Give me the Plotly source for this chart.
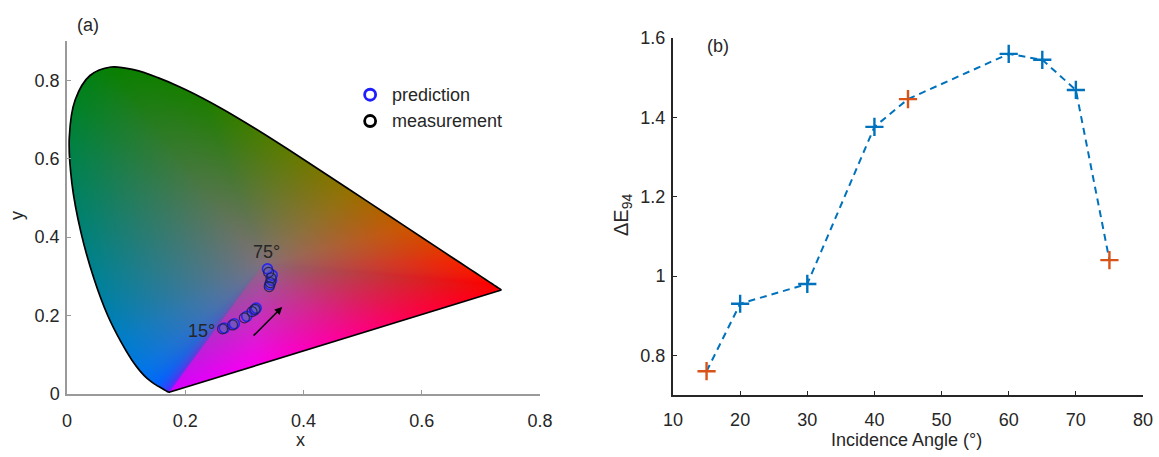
import numpy as np
import plotly.graph_objects as go
import zlib, struct, base64

# ---------------- data ----------------
# CIE 1931 spectral locus (nm, x, y)
locus_nm = [380, 390, 400, 410, 420, 425, 430, 435, 440, 445, 450, 455, 460, 465, 470, 475, 480,
            485, 490, 495, 500, 505, 510, 515, 520, 525, 530, 535, 540, 545, 550, 555, 560, 565,
            570, 575, 580, 585, 590, 595, 600, 605, 610, 615, 620, 625, 630, 635, 640, 645, 650,
            660, 670, 680, 700]
locus_x = [0.1741, 0.1738, 0.1733, 0.1726, 0.1714, 0.1703, 0.1689, 0.1669, 0.1644, 0.1611, 0.1566,
           0.1510, 0.1440, 0.1355, 0.1241, 0.1096, 0.0913, 0.0687, 0.0454, 0.0235, 0.0082, 0.0039,
           0.0139, 0.0389, 0.0743, 0.1142, 0.1547, 0.1929, 0.2296, 0.2658, 0.3016, 0.3373, 0.3731,
           0.4087, 0.4441, 0.4788, 0.5125, 0.5448, 0.5752, 0.6029, 0.6270, 0.6482, 0.6658, 0.6801,
           0.6915, 0.7006, 0.7079, 0.7140, 0.7190, 0.7230, 0.7260, 0.7300, 0.7320, 0.7334, 0.7347]
locus_y = [0.0050, 0.0049, 0.0048, 0.0048, 0.0051, 0.0058, 0.0069, 0.0086, 0.0109, 0.0138, 0.0177,
           0.0227, 0.0297, 0.0399, 0.0578, 0.0868, 0.1327, 0.2007, 0.2950, 0.4127, 0.5384, 0.6548,
           0.7502, 0.8120, 0.8338, 0.8262, 0.8059, 0.7816, 0.7543, 0.7243, 0.6923, 0.6589, 0.6245,
           0.5896, 0.5547, 0.5202, 0.4866, 0.4544, 0.4242, 0.3965, 0.3725, 0.3514, 0.3340, 0.3197,
           0.3083, 0.2993, 0.2920, 0.2859, 0.2809, 0.2770, 0.2740, 0.2700, 0.2680, 0.2666, 0.2653]

# edge colours along the locus (by wavelength) and along the purple line
edge_nm = [380, 430, 455, 470, 480, 490, 500, 510, 520, 540, 560, 575, 590, 610, 640, 700]
edge_rgb = [(215, 0, 255), (70, 50, 255), (0, 100, 255), (0, 118, 235), (0, 126, 205), (0, 130, 150),
            (0, 130, 90), (0, 130, 35), (8, 128, 0), (28, 126, 0), (95, 124, 0), (150, 114, 0),
            (205, 86, 0), (245, 35, 0), (255, 0, 0), (255, 0, 0)]
purple_s = [0.0, 0.25, 0.5, 0.75, 1.0]
purple_rgb = [(255, 0, 0), (255, 0, 70), (255, 0, 160), (250, 0, 240), (215, 0, 255)]
white_xy = (0.3333, 0.3333)
white_rgb = (132, 112, 122)

# (a) chromaticity of the samples
angles = [15, 20, 30, 40, 45, 60, 65, 70, 75]
meas_x = [0.263, 0.280, 0.300, 0.313, 0.318, 0.342, 0.344, 0.345, 0.341]
meas_y = [0.166, 0.176, 0.194, 0.210, 0.216, 0.274, 0.284, 0.296, 0.310]
pred_x = [0.266, 0.283, 0.304, 0.317, 0.320, 0.343, 0.346, 0.347, 0.339]
pred_y = [0.168, 0.179, 0.198, 0.214, 0.219, 0.279, 0.290, 0.303, 0.319]

# (b) colour difference
de94 = [0.76, 0.93, 0.98, 1.376, 1.446, 1.56, 1.545, 1.469, 1.04]
point_kind = ["o", "b", "b", "b", "o", "b", "b", "b", "o"]

ax_ticks = [0, 0.2, 0.4, 0.6, 0.8]
ax_ticktext = ["0", "0.2", "0.4", "0.6", "0.8"]
b_xticks = [10, 20, 30, 40, 50, 60, 70, 80]
b_yticks = [0.8, 1.0, 1.2, 1.4, 1.6]
b_yticktext = ["0.8", "1", "1.2", "1.4", "1.6"]

BLUE = "#0072BD"
ORANGE = "#D95319"
TXT = "#262626"
FS = 18

# ---------------- gamut image ----------------
def catmull(xs, ys, vals, n=16):
    P = np.stack([xs, ys, vals], 1).astype(float)
    P = np.vstack([P[0], P, P[-1]])
    out = []
    for i in range(1, len(P) - 2):
        p0, p1, p2, p3 = P[i - 1], P[i], P[i + 1], P[i + 2]
        for tt in np.linspace(0, 1, n, endpoint=False):
            t2, t3 = tt * tt, tt * tt * tt
            out.append(0.5 * ((2 * p1) + (-p0 + p2) * tt + (2 * p0 - 5 * p1 + 4 * p2 - p3) * t2
                              + (-p0 + 3 * p1 - 3 * p2 + p3) * t3))
    out.append(P[-2])
    out = np.array(out)
    return out[:, 0], out[:, 1], out[:, 2]

lx, ly, lnm = catmull(locus_x, locus_y, locus_nm)
er = np.array(edge_rgb, float)
locus_cols = np.stack([np.interp(lnm, edge_nm, er[:, k]) for k in range(3)], axis=1)
ns = 80
s = np.linspace(0, 1, ns)[1:-1]
pr = np.array(purple_rgb, float)
px_ = lx[-1] + (lx[0] - lx[-1]) * s
py_ = ly[-1] + (ly[0] - ly[-1]) * s
pcols = np.stack([np.interp(s, purple_s, pr[:, k]) for k in range(3)], axis=1)
BX = np.concatenate([lx, px_, lx[:1]])
BY = np.concatenate([ly, py_, ly[:1]])
BC = np.concatenate([locus_cols, pcols, locus_cols[:1]])
seg = np.hypot(np.diff(BX), np.diff(BY))
arc = np.concatenate([[0], np.cumsum(seg)])
u = np.linspace(0, arc[-1], 8000)
DX = np.interp(u, arc, BX); DY = np.interp(u, arc, BY)
DC = np.stack([np.interp(u, arc, BC[:, k]) for k in range(3)], axis=1)
wx, wy = white_xy
phi = np.arctan2(DY - wy, DX - wx)
rad = np.hypot(DX - wx, DY - wy)
o = np.argsort(phi)
phi = phi[o]; rad = rad[o]; DC = DC[o]
phi_e = np.concatenate([phi - 2 * np.pi, phi, phi + 2 * np.pi])
rad_e = np.concatenate([rad, rad, rad])
DC_e = np.concatenate([DC, DC, DC])

W_IMG, H_IMG = 946, 706
XR, YR = 0.8, 0.9
gx = (np.arange(W_IMG) + 0.5) * XR / W_IMG
gy = YR - (np.arange(H_IMG) + 0.5) * YR / H_IMG
GX, GY = np.meshgrid(gx, gy)
gphi = np.arctan2(GY - wy, GX - wx)
gd = np.hypot(GX - wx, GY - wy)
R = np.interp(gphi, phi_e, rad_e)
t = gd / R
f = np.clip(t, 0, 1) ** 0.85
img = np.zeros((H_IMG, W_IMG, 4), np.uint8)
wc = np.array(white_rgb, float)
for k in range(3):
    ec = np.interp(gphi, phi_e, DC_e[:, k])
    img[..., k] = np.clip(wc[k] + (ec - wc[k]) * f, 0, 255).astype(np.uint8)
img[..., 3] = np.where(t <= 1.0, 255, 0).astype(np.uint8)


def png_uri(a):
    h, w, _ = a.shape
    raw = b"".join(b"\x00" + a[i].tobytes() for i in range(h))

    def chunk(tag, d):
        return struct.pack(">I", len(d)) + tag + d + struct.pack(">I", zlib.crc32(tag + d) & 0xffffffff)
    png = (b"\x89PNG\r\n\x1a\n" + chunk(b"IHDR", struct.pack(">IIBBBBB", w, h, 8, 6, 0, 0, 0))
           + chunk(b"IDAT", zlib.compress(raw, 9)) + chunk(b"IEND", b""))
    return "data:image/png;base64," + base64.b64encode(png).decode()


# ---------------- figure ----------------
FW, FH = 1159, 457
def px2fx(p): return p / FW
def py2fy(p): return 1 - p / FH

fig = go.Figure()

# locus outline (smooth) + purple line (straight)
fig.add_trace(go.Scatter(x=locus_x, y=locus_y, mode="lines",
                         line=dict(color="black", width=1.7, shape="spline", smoothing=1.0),
                         hoverinfo="skip", showlegend=False, xaxis="x", yaxis="y"))
fig.add_trace(go.Scatter(x=[locus_x[-1], locus_x[0]], y=[locus_y[-1], locus_y[0]], mode="lines",
                         line=dict(color="black", width=1.7),
                         hoverinfo="skip", showlegend=False, xaxis="x", yaxis="y"))
# measurement / prediction markers
fig.add_trace(go.Scatter(x=pred_x, y=pred_y, mode="markers",
                         marker=dict(size=10, color="rgba(95,95,190,0.7)",
                                     line=dict(color="rgb(40,40,235)", width=1.6)),
                         showlegend=False, cliponaxis=False, xaxis="x", yaxis="y"))
fig.add_trace(go.Scatter(x=meas_x, y=meas_y, mode="markers",
                         marker=dict(size=10, color="rgba(0,0,0,0)",
                                     line=dict(color="rgba(30,30,70,0.85)", width=1.2)),
                         showlegend=False, cliponaxis=False, xaxis="x", yaxis="y"))
# legend (manual)
leg_x = 0.5127
fig.add_trace(go.Scatter(x=[leg_x], y=[0.763], mode="markers",
                         marker=dict(size=11, color="white", line=dict(color="rgb(30,30,255)", width=2.8)),
                         showlegend=False, xaxis="x", yaxis="y"))
fig.add_trace(go.Scatter(x=[leg_x], y=[0.696], mode="markers",
                         marker=dict(size=11, color="white", line=dict(color="black", width=2.8)),
                         showlegend=False, xaxis="x", yaxis="y"))

# (b) line
fig.add_trace(go.Scatter(x=angles, y=de94, mode="lines",
                         line=dict(color=BLUE, width=2, dash="7px,5px"),
                         showlegend=False, xaxis="x2", yaxis="y2"))
fig.add_trace(go.Scatter(x=angles, y=de94, mode="markers",
                         marker=dict(symbol="cross-thin", size=13,
                                     line=dict(width=2.4, color=[ORANGE if k == "o" else BLUE for k in point_kind])),
                         showlegend=False, cliponaxis=False, xaxis="x2", yaxis="y2"))

fig.add_layout_image(dict(source=png_uri(img), xref="x", yref="y", x=0, y=YR, sizex=XR, sizey=YR,
                          xanchor="left", yanchor="top", sizing="stretch", layer="below"))

FONT = "Liberation Sans, Arial, sans-serif"
tickfont = dict(family=FONT, size=FS, color=TXT)
common = dict(showgrid=False, zeroline=False, showline=True, ticks="inside", ticklen=4,
              tickfont=tickfont, automargin=False)
fig.update_layout(
    width=FW, height=FH, margin=dict(l=0, r=0, t=0, b=0, autoexpand=False),
    paper_bgcolor="white", plot_bgcolor="white",
    font=dict(family=FONT, size=FS, color=TXT),
    xaxis=dict(domain=[px2fx(67), px2fx(540)], range=[0, 0.8], tickvals=ax_ticks, ticktext=ax_ticktext,
               linecolor="#9a9a9a", linewidth=1.5, tickcolor="#9a9a9a",
               ticklabelstandoff=10, anchor="y", **common),
    yaxis=dict(domain=[py2fy(394), py2fy(41)], range=[0, 0.9], tickvals=ax_ticks, ticktext=ax_ticktext,
               linecolor="#9a9a9a", linewidth=1.5, tickcolor="#9a9a9a",
               ticklabelstandoff=2, anchor="x", **common),
    xaxis2=dict(domain=[px2fx(673), px2fx(1143)], range=[10, 80], tickvals=b_xticks,
                linecolor="#262626", linewidth=2, tickcolor="#262626",
                ticklabelstandoff=7, anchor="y2", **common),
    yaxis2=dict(domain=[py2fy(395), py2fy(38)], range=[0.7, 1.6], tickvals=b_yticks, ticktext=b_yticktext,
                linecolor="#262626", linewidth=2, tickcolor="#262626",
                ticklabelstandoff=2, anchor="x2", **common),
)

mid = dict(xanchor="center", yanchor="middle", showarrow=False)
ann = [
    dict(text="(a)", x=px2fx(88), y=py2fy(25), xref="paper", yref="paper", **mid),
    dict(text="(b)", x=px2fx(718), y=py2fy(46), xref="paper", yref="paper", **mid),
    dict(text="x", x=px2fx(300), y=py2fy(440), xref="paper", yref="paper", **mid),
    dict(text="y", x=px2fx(17), y=py2fy(216), xref="paper", yref="paper", textangle=-90, **mid),
    dict(text="ΔE<sub>94</sub>", x=px2fx(622), y=py2fy(215), xref="paper", yref="paper",
         textangle=-90, font=dict(size=20), **mid),
    dict(text="Incidence Angle (°)", x=px2fx(906), y=py2fy(440), xref="paper", yref="paper", **mid),
    dict(text="prediction", x=0.5465, y=0.763, xref="x", yref="y", xanchor="left", yanchor="middle",
         showarrow=False),
    dict(text="measurement", x=0.5465, y=0.696, xref="x", yref="y", xanchor="left", yanchor="middle",
         showarrow=False),
    dict(text="15°", x=0.228, y=0.161, xref="x", yref="y", **mid),
    dict(text="75°", x=0.3367, y=0.362, xref="x", yref="y", **mid),
    dict(text="", x=0.364, y=0.222, ax=0.313, ay=0.145, xref="x", yref="y", axref="x", ayref="y",
         showarrow=True, arrowhead=2, arrowsize=1, arrowwidth=1.5, arrowcolor="black"),
]
fig.update_layout(annotations=ann)

fig.write_html("out.html")
